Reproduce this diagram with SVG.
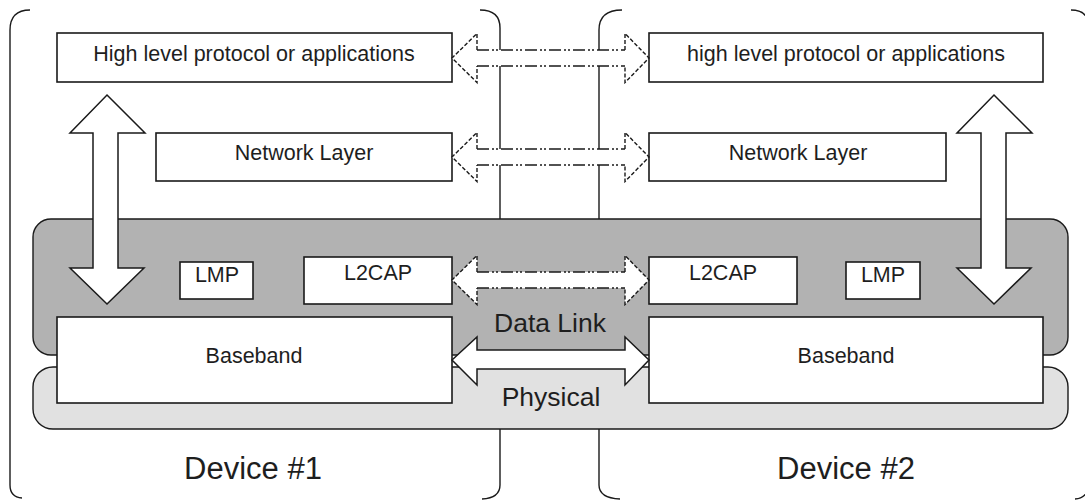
<svg xmlns="http://www.w3.org/2000/svg" xmlns:xlink="http://www.w3.org/1999/xlink" width="1085" height="500" viewBox="0 0 1085 500">
  <style>
    .frame { fill: none; stroke: #1a1a1a; stroke-width: 1.4; }
    .box { fill: #ffffff; stroke: #1a1a1a; stroke-width: 1.6; }
    .dl { fill: #b2b2b2; stroke: #1a1a1a; stroke-width: 1.4; }
    .ph { fill: #e1e1e1; stroke: #1a1a1a; stroke-width: 1.4; }
    .lbl { font-family: "Liberation Sans", Arial, sans-serif; font-size: 21.5px; fill: #1e1e1e; text-anchor: middle; }
    .big { font-family: "Liberation Sans", Arial, sans-serif; font-size: 26.5px; fill: #1e1e1e; text-anchor: middle; }
    .dev { font-family: "Liberation Sans", Arial, sans-serif; font-size: 31px; fill: #1e1e1e; text-anchor: middle; }
    .solid-arrow { fill: #ffffff; stroke: #1a1a1a; stroke-width: 1.5; stroke-linejoin: miter; }
    .fillonly { fill: #ffffff; stroke: none; }
    .head { fill: none; stroke: #1a1a1a; stroke-width: 1.4; stroke-dasharray: 4 2; }
    .shaft { fill: none; stroke: #1a1a1a; stroke-width: 1.4; stroke-dasharray: 12 3 2 2 2 3; }
  </style>
  <defs>
    <!-- dashed double-headed horizontal arrow between the two stacks, centred on y=0 -->
    <g id="dashed-arrow">
      <polygon class="fillonly" points="452,0 477,-24.5 477,-8 625,-8 625,-24.5 649,0 625,24.5 625,8 477,8 477,24.5"/>
      <path class="head" d="M477,-8 L477,-24.5 L452,0 L477,24.5 L477,8"/>
      <path class="head" d="M625,-8 L625,-24.5 L649,0 L625,24.5 L625,8"/>
      <path class="shaft" d="M477,-8 H625 M477,8 H625"/>
    </g>
  </defs>

  <rect width="1085" height="500" fill="#ffffff"/>

  <!-- device frames -->
  <g id="device1">
    <path class="frame" d="M30,10 Q10,10 10,30 L10,485 Q10,497 22,498"/>
    <path class="frame" d="M480,10 Q500,10 500,28 L500,219 M500,429 L500,485 Q500,498 482,499"/>
    <text class="dev" x="253" y="479">Device #1</text>
  </g>
  <g id="device2">
    <path class="frame" d="M622,10 Q599,10 599,30 L599,219 M599,429 L599,485 Q599,498 620,499"/>
    <path class="frame" d="M1071,10 Q1088,10 1089,26 L1089,484 Q1088,498 1075,499"/>
    <text class="dev" x="846" y="479">Device #2</text>
  </g>

  <!-- layer regions -->
  <g id="physical">
    <rect class="ph" x="33" y="367" width="1035" height="62" rx="20" ry="20"/>
  </g>
  <g id="data-link">
    <rect class="dl" x="33" y="219" width="1035" height="136" rx="18" ry="18"/>
  </g>

  <!-- protocol boxes, device 1 -->
  <g id="app1">
    <rect class="box" x="57" y="33" width="395" height="49"/>
    <text class="lbl" x="254" y="61">High level protocol or applications</text>
  </g>
  <g id="net1">
    <rect class="box" x="156" y="133" width="296" height="48"/>
    <text class="lbl" x="304" y="160">Network Layer</text>
  </g>
  <g id="lmp1">
    <rect class="box" x="180" y="262" width="73" height="37"/>
    <text class="lbl" x="217" y="282">LMP</text>
  </g>
  <g id="l2cap1">
    <rect class="box" x="304" y="257" width="148" height="47"/>
    <text class="lbl" x="378" y="280">L2CAP</text>
  </g>
  <g id="baseband1">
    <rect class="box" x="57" y="317" width="395" height="86"/>
    <text class="lbl" x="254" y="363">Baseband</text>
  </g>

  <!-- protocol boxes, device 2 -->
  <g id="app2">
    <rect class="box" x="649" y="33" width="394" height="49"/>
    <text class="lbl" x="846" y="61">high level protocol or applications</text>
  </g>
  <g id="net2">
    <rect class="box" x="649" y="133" width="297" height="48"/>
    <text class="lbl" x="798" y="160">Network Layer</text>
  </g>
  <g id="l2cap2">
    <rect class="box" x="649" y="257" width="148" height="47"/>
    <text class="lbl" x="723" y="280">L2CAP</text>
  </g>
  <g id="lmp2">
    <rect class="box" x="846" y="262" width="74" height="37"/>
    <text class="lbl" x="883" y="282">LMP</text>
  </g>
  <g id="baseband2">
    <rect class="box" x="649" y="317" width="394" height="86"/>
    <text class="lbl" x="846" y="363">Baseband</text>
  </g>

  <!-- connectors -->
  <g id="connectors">
    <polygon class="solid-arrow" points="107,95 145,133 118,133 118,268 144,268 107,304 70,268 93,268 93,133 70,133"/>
    <polygon class="solid-arrow" points="994,95 1032,133 1006,133 1006,268 1031,268 994,304 957,268 981,268 981,133 957,133"/>
    <use xlink:href="#dashed-arrow" transform="translate(0,58)"/>
    <use xlink:href="#dashed-arrow" transform="translate(0,157)"/>
    <use xlink:href="#dashed-arrow" transform="translate(0,280)"/>
    <polygon class="solid-arrow" points="452,360 477,337 477,350 625,350 625,337 649,360 625,385 625,369 477,369 477,385"/>
  </g>

  <!-- layer labels -->
  <text class="big" x="550" y="332">Data Link</text>
  <text class="big" x="551" y="406">Physical</text>
</svg>
